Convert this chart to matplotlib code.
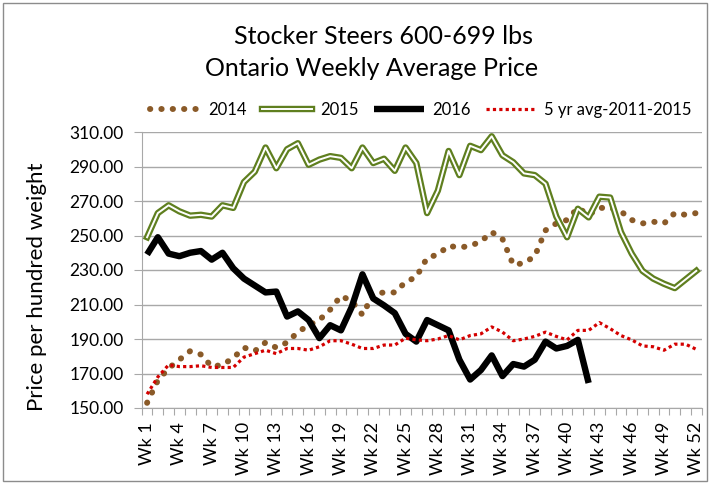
import numpy as np
import matplotlib
matplotlib.use("Agg")
import matplotlib.pyplot as plt
import matplotlib.patheffects as pe
from matplotlib.lines import Line2D
from matplotlib.patches import Rectangle

plt.rcParams['font.family'] = ['Lato', 'DejaVu Sans']

# ---------- DATA ----------
weeks = list(range(1, 53))
week_labels = ["Wk %d" % w for w in range(1, 53, 3)]

y2014 = [153, 166, 173, 178, 183, 181, 174, 175, 179, 185, 183, 188, 185, 188, 194, 198,
         201, 207, 215, 212, 204, 216, 217, 217, 223, 226, 237, 239, 244, 243, 244, 246.5,
         252, 248, 233, 234, 238, 253, 257, 259, 266, 262, 266, 266, 264, 259, 257, 258,
         257, 263, 262, 263]
y2015 = [249, 263, 267.5, 264, 261.5, 262, 261, 267.5, 266, 281, 287, 301, 289, 300, 303.5,
         291, 294, 296, 295, 289, 301, 292, 294.5, 287.5, 301, 292, 263, 276, 299, 285, 302,
         299.5, 307.5, 296.5, 292.5, 286, 285, 280, 261, 249, 265.5, 260.5, 272.5, 272, 252,
         239.5, 229.5, 225, 222, 219.5, 224.5, 229.5]
y2016 = [239, 249, 239.5, 238, 240, 241, 236, 240, 231, 225, 221, 217, 217.5, 203, 206, 201,
         190.5, 198, 195, 208.5, 227.5, 213.5, 209.5, 205, 193, 188.5, 201, 198, 195, 178,
         166.5, 172, 180.5, 168.5, 175.5, 174, 178, 188.5, 184.5, 186, 189.5, 164.5]
avg5 = [158, 168, 175, 174, 174, 174.5, 173.5, 173.5, 173.5, 179.5, 181.5, 183.5, 181.5,
        184.5, 184.5, 183.5, 185.5, 189, 189, 187, 184.5, 184.5, 186.5, 186.5, 190.5, 189.5,
        189, 190, 192, 189.5, 192, 193, 197, 194, 189, 190, 191.5, 194, 191.5, 189.5, 195,
        195, 199.5, 196, 192, 189.5, 186, 185.5, 183.5, 187, 187, 184]

BROWN = '#8a5a28'
GREEN = '#5f7f1f'
RED = '#d40000'

W, H = 710, 483
fig = plt.figure(figsize=(W/100, H/100), dpi=100)
ax = fig.add_axes([141.7/W, 1-408/H, 560/W, 276/H])

x = np.array(weeks)
# double (compound) line for 2015: green outer stroke, white core
double = [pe.Stroke(linewidth=4.6, foreground=GREEN), pe.Normal()]

# ---------- SERIES ----------
l14, = ax.plot(x, y2014, color=BROWN, lw=4.3, linestyle=(0, (0.05, 1.85)),
               dash_capstyle='round', zorder=3, label="2014")
l15, = ax.plot(x, y2015, color='white', lw=1.4, zorder=4, label="2015",
               path_effects=double)
l16, = ax.plot(x[:len(y2016)], y2016, color='black', lw=4.6, solid_capstyle='butt',
               zorder=5, label="2016")
lav, = ax.plot(x, avg5, color=RED, lw=2.3, linestyle=(0, (1, 1)), zorder=6,
               label="5 yr avg-2011-2015")

# ---------- AXES ----------
ax.set_xlim(0.5, 52.5)
ax.set_ylim(150, 310)
ax.set_yticks(np.arange(150, 311, 20))
ax.set_yticklabels(["%.2f" % v for v in np.arange(150, 311, 20)])
ax.yaxis.grid(True, color='#a8a8a8', lw=1)
ax.set_axisbelow(True)
for s in ['top', 'right']:
    ax.spines[s].set_visible(False)
for s in ['left', 'bottom']:
    ax.spines[s].set_color('#a8a8a8')
ax.tick_params(axis='y', length=6, color='#a8a8a8', pad=7, labelsize=12.5)

ax.set_xticks(np.arange(0.5, 53, 1))
ax.set_xticklabels([])
ax.tick_params(axis='x', which='major', length=5, color='#a8a8a8')
ax.set_xticks(np.arange(1, 53, 3), minor=True)
ax.set_xticklabels(week_labels, minor=True, rotation=90, fontsize=13)
ax.tick_params(axis='x', which='minor', length=0, pad=10)

fig.text(37/W, 1-287/H, "Price per hundred weight", rotation=90, ha='center', va='center',
         fontsize=16)

fig.text(384/W, 1-36/H, "Stocker Steers 600-699 lbs", ha='center', va='center', fontsize=18)
fig.text(372/W, 1-68/H, "Ontario Weekly Average Price", ha='center', va='center', fontsize=18)

# ---------- LEGEND ----------
fig.legend(handles=[l14, l15, l16, lav],
           loc='center', bbox_to_anchor=(421/W, 1-110/H), ncol=4, frameon=False,
           fontsize=12, handlelength=3.0, handletextpad=0.5, columnspacing=0.9,
           borderpad=0, borderaxespad=0)

fig.add_artist(Rectangle((3/W, 2/H), 704/W, 478.3/H, transform=fig.transFigure,
                         fill=False, ec='#8c8c8c', lw=1))

fig.savefig("out.png", dpi=100)
